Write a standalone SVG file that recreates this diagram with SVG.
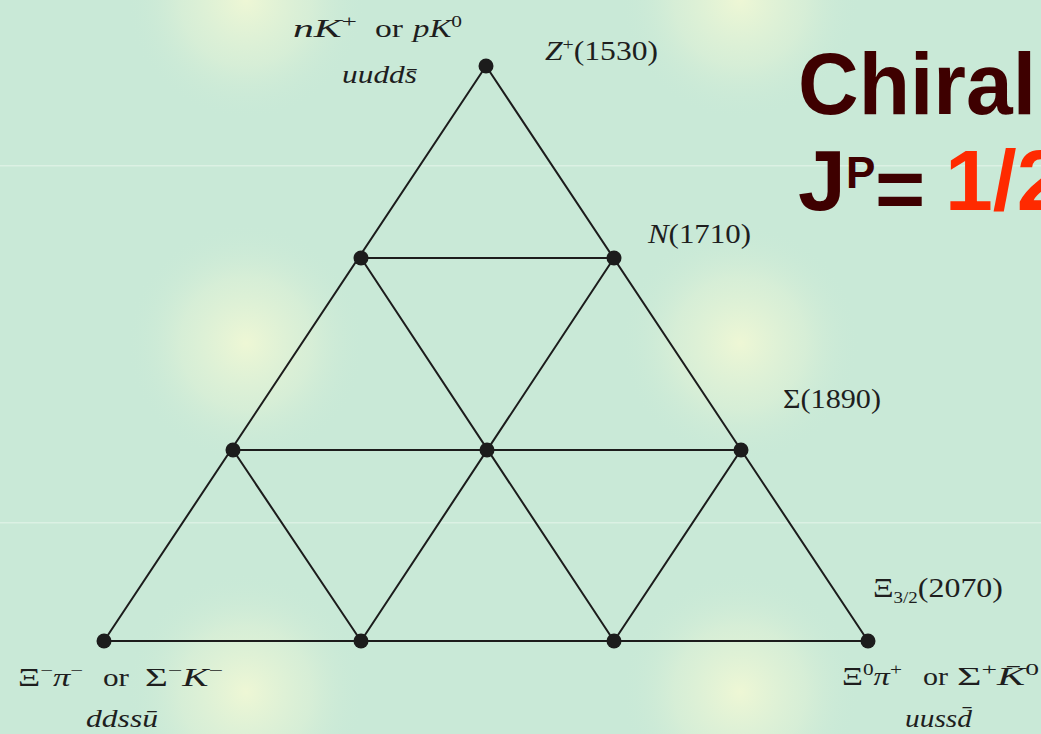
<svg xmlns="http://www.w3.org/2000/svg" width="1041" height="734" viewBox="0 0 1041 734">
<defs>
<radialGradient id="glow" cx="0.5" cy="0.5" r="0.5">
<stop offset="0" stop-color="#eef7d5" stop-opacity="1"/>
<stop offset="0.55" stop-color="#dff1d6" stop-opacity="0.6"/>
<stop offset="1" stop-color="#c9e9d7" stop-opacity="0"/>
</radialGradient>
</defs>
<style>
.m{font-family:"Liberation Serif","DejaVu Serif",serif;fill:#1e1e1e;font-size:26px}
.i{font-style:italic}
.sup{font-size:17px}
.e{stroke:#1c1c1c;stroke-width:2;fill:none;stroke-linecap:round}
.n{fill:#1c1c1c}
.t{font-family:"Liberation Sans","Arial",sans-serif;font-weight:bold;fill:#3e0000}
</style>
<rect x="0" y="0" width="1041" height="734" fill="#c9e9d7"/>
<g id="background-glows">
<circle cx="246" cy="0" r="120" fill="url(#glow)"/>
<circle cx="740" cy="0" r="120" fill="url(#glow)"/>
<circle cx="246" cy="343" r="120" fill="url(#glow)"/>
<circle cx="740" cy="343" r="120" fill="url(#glow)"/>
<circle cx="246" cy="692" r="120" fill="url(#glow)"/>
<circle cx="740" cy="692" r="120" fill="url(#glow)"/>
<rect x="0" y="165" width="1041" height="1.5" fill="#dcf1e4"/>
<rect x="0" y="522" width="1041" height="1.5" fill="#dcf1e4"/>
</g>
<g id="connectors">
<line class="e" x1="486" y1="66" x2="104" y2="641"/>
<line class="e" x1="486" y1="66" x2="868" y2="641"/>
<line class="e" x1="104" y1="641" x2="868" y2="641"/>
<line class="e" x1="361" y1="258" x2="614" y2="258"/>
<line class="e" x1="233" y1="450" x2="741" y2="450"/>
<line class="e" x1="361" y1="258" x2="614" y2="641"/>
<line class="e" x1="614" y1="258" x2="361" y2="641"/>
<line class="e" x1="233" y1="450" x2="361" y2="641"/>
<line class="e" x1="741" y1="450" x2="614" y2="641"/>
</g>
<g id="node-top">
<circle class="n" cx="486" cy="66" r="7.5"/>
<text class="m" x="293" y="37" textLength="64" lengthAdjust="spacingAndGlyphs"><tspan class="i">nK</tspan><tspan class="sup" dy="-10">+</tspan></text>
<text class="m" x="375" y="37" textLength="28" lengthAdjust="spacingAndGlyphs">or</text>
<text class="m" x="413" y="37" textLength="49" lengthAdjust="spacingAndGlyphs"><tspan class="i">pK</tspan><tspan class="sup" dy="-10">0</tspan></text>
<text class="m i" x="342" y="83" textLength="75" lengthAdjust="spacingAndGlyphs">uudds̄</text>
<text class="m" x="545" y="60" textLength="113" lengthAdjust="spacingAndGlyphs" style="font-size:27px"><tspan class="i">Z</tspan><tspan class="sup" dy="-10">+</tspan><tspan dy="10">(1530)</tspan></text>
</g>
<g id="node-r2-left"><circle class="n" cx="361" cy="258" r="7.5"/></g>
<g id="node-r2-right">
<circle class="n" cx="614" cy="258" r="7.5"/>
<text class="m" x="648" y="243" textLength="103" lengthAdjust="spacingAndGlyphs" style="font-size:27px"><tspan class="i">N</tspan>(1710)</text>
</g>
<g id="node-r3-left"><circle class="n" cx="233" cy="450" r="7.5"/></g>
<g id="node-r3-mid"><circle class="n" cx="487" cy="450" r="7.5"/></g>
<g id="node-r3-right">
<circle class="n" cx="741" cy="450" r="7.5"/>
<text class="m" x="783" y="408" textLength="98" lengthAdjust="spacingAndGlyphs" style="font-size:27px">Σ(1890)</text>
</g>
<g id="node-r4-1">
<circle class="n" cx="104" cy="641" r="7.5"/>
<text class="m" x="18" y="686" textLength="65" lengthAdjust="spacingAndGlyphs">Ξ<tspan class="sup" dy="-10">−</tspan><tspan class="i" dy="10">π</tspan><tspan class="sup" dy="-10">−</tspan></text>
<text class="m" x="103" y="686" textLength="26" lengthAdjust="spacingAndGlyphs">or</text>
<text class="m" x="145" y="686" textLength="78" lengthAdjust="spacingAndGlyphs">Σ<tspan class="sup" dy="-10">−</tspan><tspan class="i" dy="10">K</tspan><tspan class="sup" dy="-10">−</tspan></text>
<text class="m i" x="86" y="727" textLength="72" lengthAdjust="spacingAndGlyphs">ddssū</text>
</g>
<g id="node-r4-2"><circle class="n" cx="361" cy="641" r="7.5"/></g>
<g id="node-r4-3"><circle class="n" cx="614" cy="641" r="7.5"/></g>
<g id="node-r4-4">
<circle class="n" cx="868" cy="641" r="7.5"/>
<text class="m" x="873" y="597" textLength="130" lengthAdjust="spacingAndGlyphs" style="font-size:27px">Ξ<tspan style="font-size:16px" dy="6">3/2</tspan><tspan dy="-6">(2070)</tspan></text>
<text class="m" x="842" y="685" textLength="60" lengthAdjust="spacingAndGlyphs">Ξ<tspan class="sup" dy="-10">0</tspan><tspan class="i" dy="10">π</tspan><tspan class="sup" dy="-10">+</tspan></text>
<text class="m" x="923" y="685" textLength="25" lengthAdjust="spacingAndGlyphs">or</text>
<text class="m" x="957" y="685" textLength="82" lengthAdjust="spacingAndGlyphs">Σ<tspan class="sup" dy="-10">+</tspan><tspan class="i" dy="10">K̄</tspan><tspan class="sup" dy="-10">0</tspan></text>
<text class="m i" x="905" y="727" textLength="67" lengthAdjust="spacingAndGlyphs">uussd̄</text>
</g>
<g id="title">
<text class="t" x="798" y="114" font-size="87" textLength="238" lengthAdjust="spacingAndGlyphs">Chiral</text>
<text class="t" x="798" y="210" font-size="86">J</text>
<text class="t" x="846" y="188" font-size="44">P</text>
<text class="t" x="875" y="218" font-size="86">=</text>
<text class="t" x="945" y="210" font-size="86" style="fill:#ff2a00">1/2</text>
</g>
</svg>
